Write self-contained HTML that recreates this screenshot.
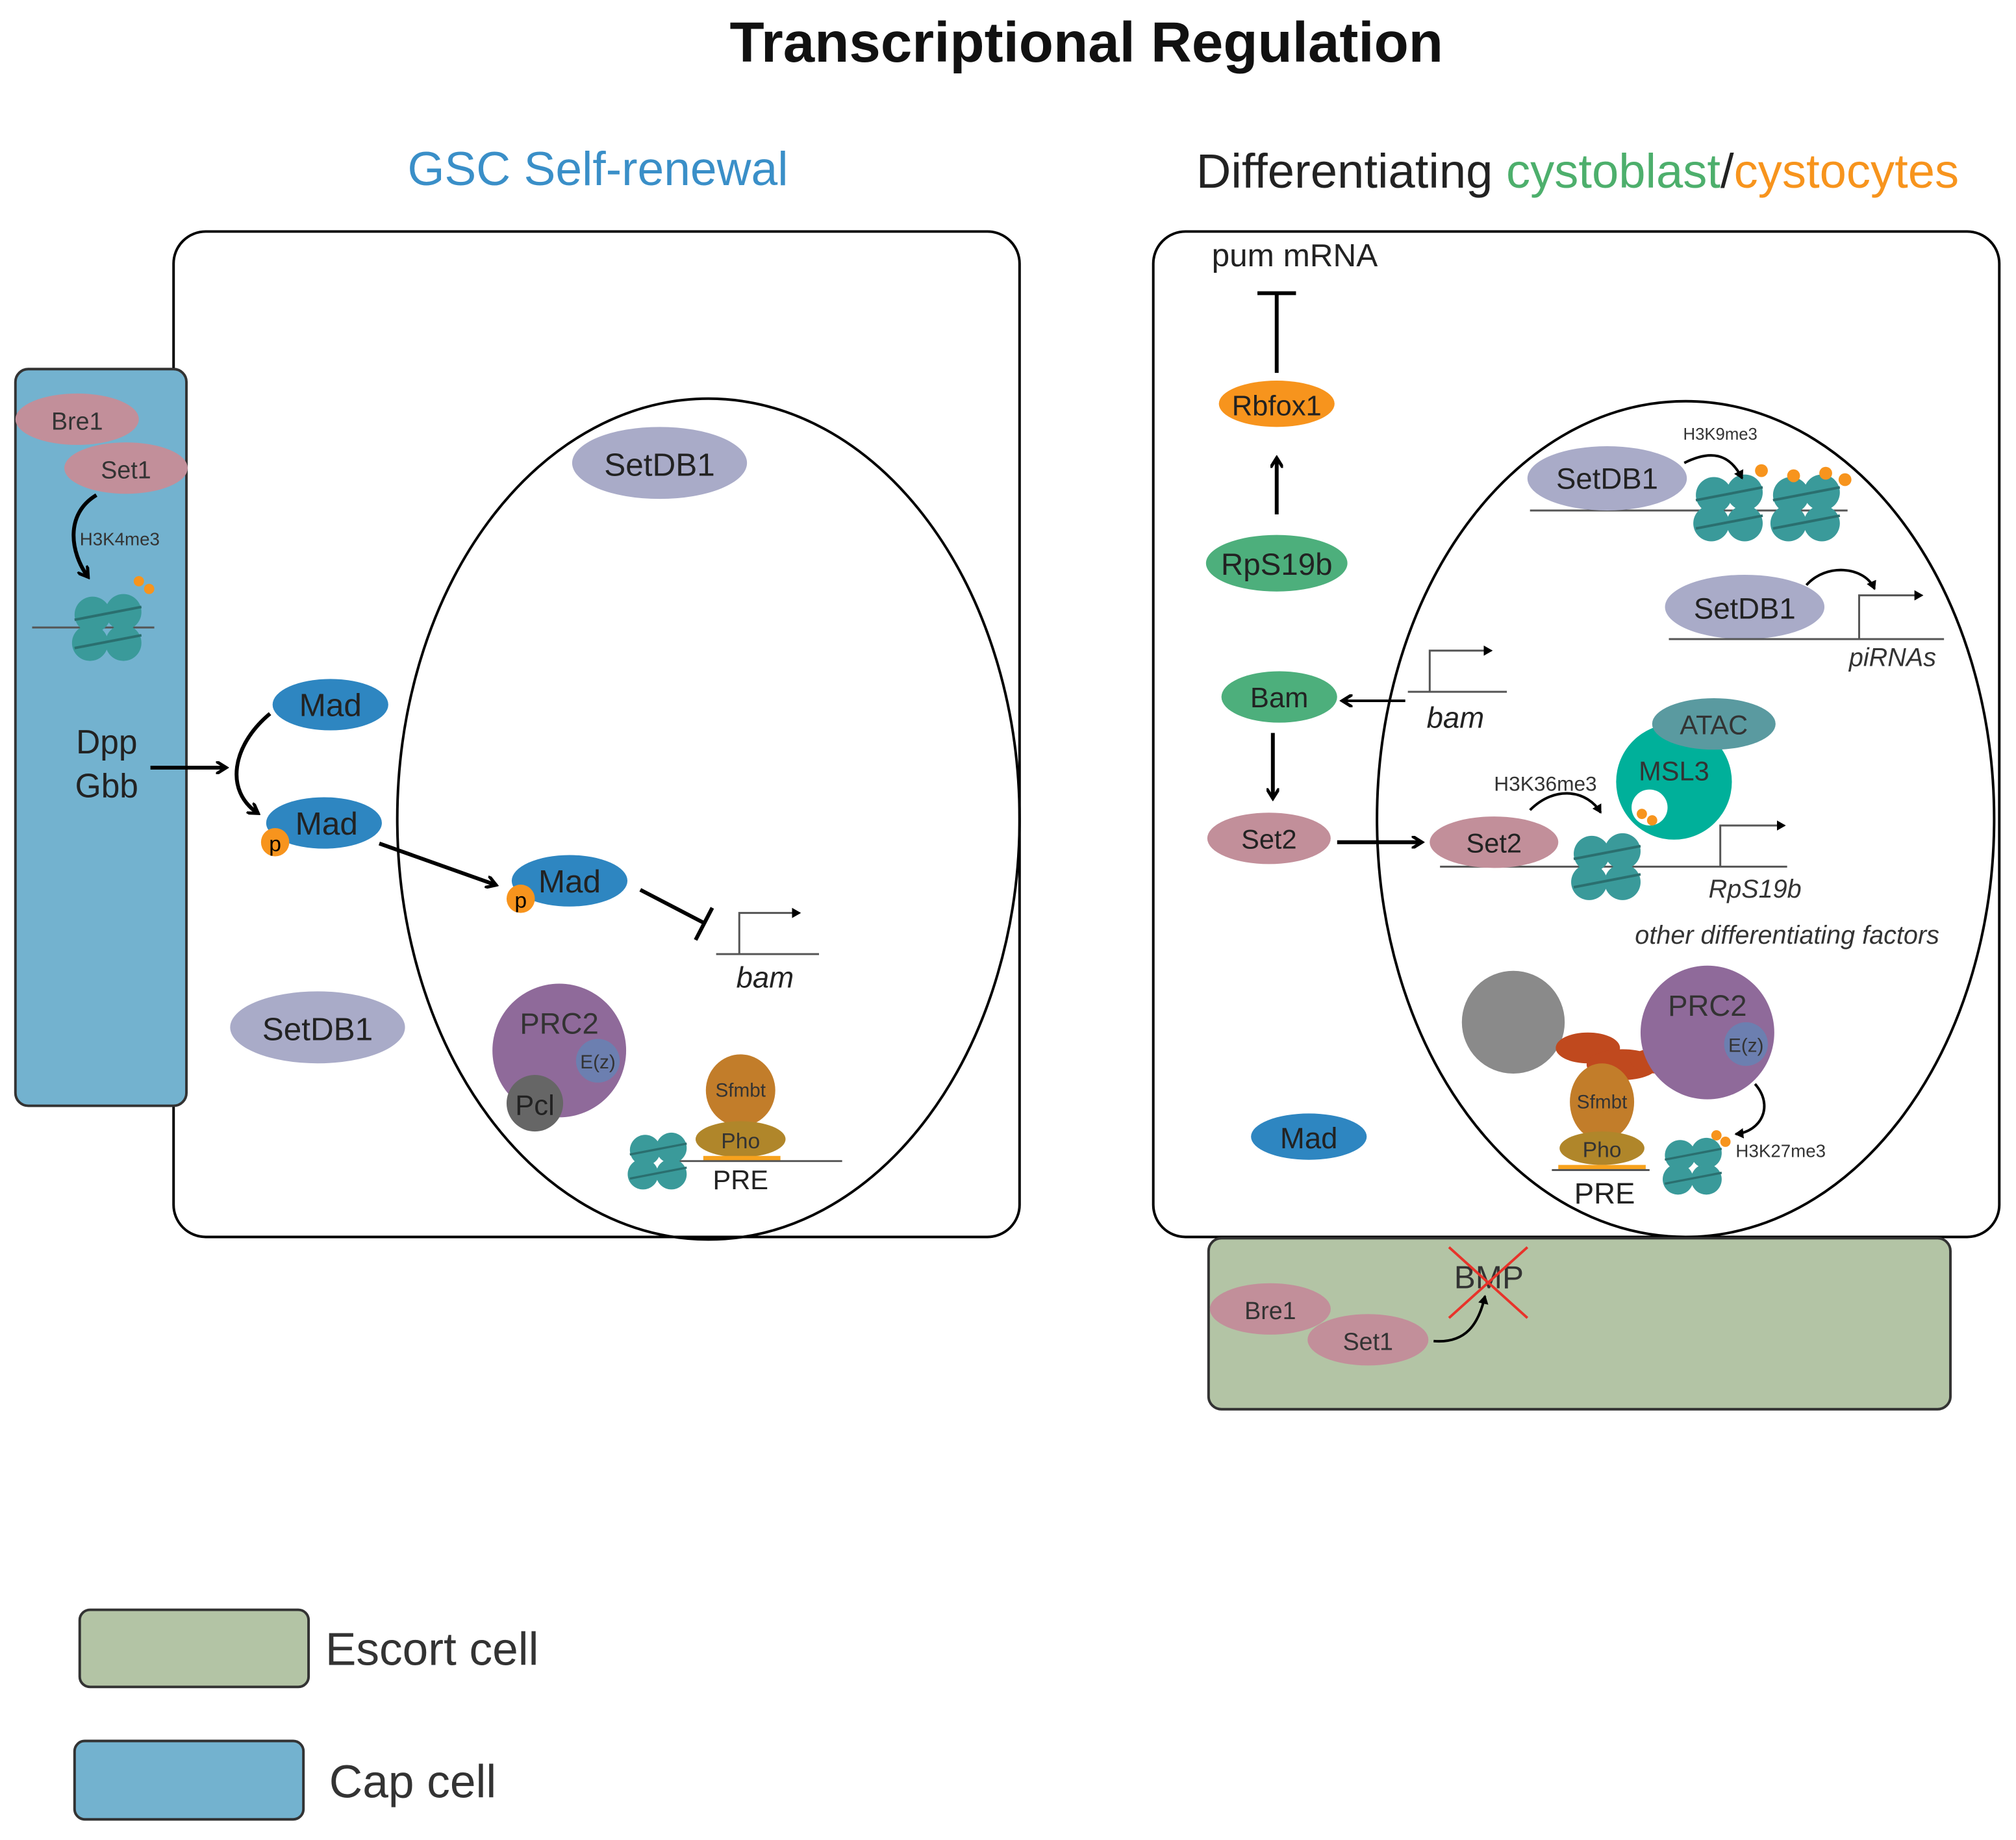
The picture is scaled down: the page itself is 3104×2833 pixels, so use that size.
<!DOCTYPE html>
<html><head><meta charset="utf-8"><style>html,body{margin:0;padding:0;background:#fff}svg{display:block}</style></head>
<body>
<svg width="3104" height="2833" viewBox="0 0 1568 1431" xmlns="http://www.w3.org/2000/svg" font-family="Liberation Sans, sans-serif">
<defs>
<marker id="ah" markerWidth="10" markerHeight="10" refX="7" refY="5" orient="auto" markerUnits="userSpaceOnUse"><path d="M0,0 L8,5 L0,10" fill="none" stroke="#000" stroke-width="2.5"/></marker>
<marker id="sm" markerWidth="8" markerHeight="8" refX="6" refY="4" orient="auto" markerUnits="userSpaceOnUse"><path d="M0,0 L7,4 L0,8 z" fill="#000"/></marker>
<g id="nuc">
<circle cx="-12" cy="-10" r="14" fill="#3a9a9a"/><circle cx="12" cy="-12" r="14" fill="#3a9a9a"/>
<circle cx="-14" cy="12" r="14" fill="#3a9a9a"/><circle cx="12" cy="12" r="14" fill="#3a9a9a"/>
<path d="M-26,-6 L26,-16 M-26,16 L26,6" stroke="#2a6f6f" stroke-width="2"/>
</g>
</defs>
<text x="845" y="48" font-size="44" font-weight="bold" text-anchor="middle" fill="#111">Transcriptional Regulation</text>
<text x="465" y="144" font-size="37" fill="#3a8fc8" text-anchor="middle">GSC Self-renewal</text>
<text x="1227" y="146" font-size="37.5" text-anchor="middle" fill="#222">Differentiating <tspan fill="#4daf6c">cystoblast</tspan>/<tspan fill="#f7941d">cystocytes</tspan></text>

<!-- left cell -->
<rect x="135" y="180" width="658" height="782" rx="25" fill="#fff" stroke="#000" stroke-width="2"/>
<rect x="12" y="287" width="133" height="573" rx="10" fill="#73b2cf" stroke="#333" stroke-width="2"/>
<ellipse cx="551" cy="637" rx="242" ry="327" fill="none" stroke="#000" stroke-width="2"/>
<ellipse cx="60" cy="326" rx="48" ry="20" fill="#c28f9a"/><text x="60" y="334" font-size="19" text-anchor="middle" fill="#333">Bre1</text>
<ellipse cx="98" cy="364" rx="48" ry="20" fill="#c28f9a"/><text x="98" y="372" font-size="19" text-anchor="middle" fill="#333">Set1</text>
<path d="M75,385 C50,400 55,430 68,448" fill="none" stroke="#000" stroke-width="3" marker-end="url(#ah)"/>
<text x="62" y="424" font-size="14" fill="#333">H3K4me3</text>
<line x1="25" y1="488" x2="120" y2="488" stroke="#555" stroke-width="1.5"/>
<use href="#nuc" x="84" y="488"/>
<circle cx="108" cy="452" r="4" fill="#f7941d"/><circle cx="116" cy="458" r="4" fill="#f7941d"/>
<text x="83" y="586" font-size="26" text-anchor="middle" fill="#222">Dpp</text>
<text x="83" y="620" font-size="26" text-anchor="middle" fill="#222">Gbb</text>
<line x1="117" y1="597" x2="175" y2="597" stroke="#000" stroke-width="3" marker-end="url(#ah)"/>
<ellipse cx="257" cy="548" rx="45" ry="20" fill="#2e86c1"/><text x="257" y="557" font-size="25" text-anchor="middle" fill="#222">Mad</text>
<path d="M210,555 C180,580 175,615 200,632" fill="none" stroke="#000" stroke-width="3" marker-end="url(#ah)"/>
<ellipse cx="252" cy="640" rx="45" ry="20" fill="#2e86c1"/><text x="254" y="649" font-size="25" text-anchor="middle" fill="#222">Mad</text>
<circle cx="214" cy="655" r="11" fill="#f7941d"/><text x="214" y="662" font-size="17" text-anchor="middle">p</text>
<line x1="295" y1="656" x2="385" y2="688" stroke="#000" stroke-width="3" marker-end="url(#ah)"/>
<ellipse cx="443" cy="685" rx="45" ry="20" fill="#2e86c1"/><text x="443" y="694" font-size="25" text-anchor="middle" fill="#222">Mad</text>
<circle cx="405" cy="699" r="11" fill="#f7941d"/><text x="405" y="706" font-size="17" text-anchor="middle">p</text>
<line x1="498" y1="692" x2="548" y2="718" stroke="#000" stroke-width="3"/><line x1="541" y1="731" x2="554" y2="706" stroke="#000" stroke-width="3"/>
<line x1="557" y1="742" x2="637" y2="742" stroke="#555" stroke-width="1.5"/>
<polyline points="575,742 575,710 622,710" fill="none" stroke="#555" stroke-width="1.5" marker-end="url(#sm)"/>
<text x="595" y="768" font-size="23" font-style="italic" text-anchor="middle" fill="#222">bam</text>
<ellipse cx="513" cy="360" rx="68" ry="28" fill="#a9abc8"/><text x="513" y="370" font-size="25" text-anchor="middle" fill="#222">SetDB1</text>
<ellipse cx="247" cy="799" rx="68" ry="28" fill="#a9abc8"/><text x="247" y="809" font-size="25" text-anchor="middle" fill="#222">SetDB1</text>
<circle cx="435" cy="817" r="52" fill="#8f6a9a"/><text x="435" y="804" font-size="23" text-anchor="middle" fill="#333">PRC2</text>
<circle cx="465" cy="825" r="17" fill="#6c7fb0"/><text x="465" y="831" font-size="15" text-anchor="middle" fill="#333">E(z)</text>
<circle cx="416" cy="858" r="22" fill="#666"/><text x="416" y="867" font-size="22" text-anchor="middle" fill="#222">Pcl</text>
<ellipse cx="576" cy="848" rx="27" ry="28" fill="#c27d2a"/><text x="576" y="853" font-size="15" text-anchor="middle" fill="#333">Sfmbt</text>
<ellipse cx="576" cy="886" rx="35" ry="14" fill="#b0862a"/><text x="576" y="893" font-size="17" text-anchor="middle" fill="#333">Pho</text>
<rect x="547" y="899" width="60" height="4" fill="#f7a21d"/>
<line x1="525" y1="903" x2="655" y2="903" stroke="#555" stroke-width="1.5"/>
<text x="576" y="925" font-size="21" text-anchor="middle" fill="#222">PRE</text>
<use href="#nuc" transform="translate(512 903) scale(0.85)"/>

<!-- right cell -->
<rect x="897" y="180" width="658" height="782" rx="25" fill="#fff" stroke="#000" stroke-width="2"/>
<ellipse cx="1311" cy="637" rx="240" ry="325" fill="none" stroke="#000" stroke-width="2"/>
<rect x="940" y="963" width="577" height="133" rx="10" fill="#b3c4a5" stroke="#333" stroke-width="2"/>
<text x="1007" y="207" font-size="25" text-anchor="middle" fill="#222">pum mRNA</text>
<line x1="993" y1="290" x2="993" y2="228" stroke="#000" stroke-width="3"/><line x1="978" y1="228" x2="1008" y2="228" stroke="#000" stroke-width="3"/>
<ellipse cx="993" cy="314" rx="45" ry="18" fill="#f7941d"/><text x="993" y="323" font-size="22" text-anchor="middle" fill="#222">Rbfox1</text>
<line x1="993" y1="400" x2="993" y2="357" stroke="#000" stroke-width="3" marker-end="url(#ah)"/>
<ellipse cx="993" cy="438" rx="55" ry="22" fill="#4daf7c"/><text x="993" y="447" font-size="24" text-anchor="middle" fill="#222">RpS19b</text>
<ellipse cx="995" cy="542" rx="45" ry="20" fill="#4daf7c"/><text x="995" y="550" font-size="22" text-anchor="middle" fill="#222">Bam</text>
<line x1="1093" y1="545" x2="1045" y2="545" stroke="#000" stroke-width="2" marker-end="url(#ah)"/>
<line x1="1095" y1="538" x2="1172" y2="538" stroke="#555" stroke-width="1.5"/>
<polyline points="1112,538 1112,506 1160,506" fill="none" stroke="#555" stroke-width="1.5" marker-end="url(#sm)"/>
<text x="1132" y="566" font-size="23" font-style="italic" text-anchor="middle" fill="#222">bam</text>
<line x1="990" y1="570" x2="990" y2="620" stroke="#000" stroke-width="3" marker-end="url(#ah)"/>
<ellipse cx="987" cy="652" rx="48" ry="20" fill="#c28f9a"/><text x="987" y="660" font-size="21" text-anchor="middle" fill="#222">Set2</text>
<line x1="1040" y1="655" x2="1105" y2="655" stroke="#000" stroke-width="3" marker-end="url(#ah)"/>
<line x1="1120" y1="674" x2="1390" y2="674" stroke="#555" stroke-width="1.5"/>
<ellipse cx="1162" cy="655" rx="50" ry="20" fill="#c28f9a"/><text x="1162" y="663" font-size="21" text-anchor="middle" fill="#222">Set2</text>
<use href="#nuc" x="1250" y="674"/>
<path d="M1190,630 C1210,610 1235,615 1245,632" fill="none" stroke="#000" stroke-width="2" marker-end="url(#sm)"/>
<text x="1202" y="615" font-size="16" text-anchor="middle" fill="#333">H3K36me3</text>
<polyline points="1338,674 1338,642 1388,642" fill="none" stroke="#555" stroke-width="1.5" marker-end="url(#sm)"/>
<text x="1365" y="698" font-size="20" font-style="italic" text-anchor="middle" fill="#333">RpS19b</text>
<text x="1390" y="734" font-size="20" font-style="italic" text-anchor="middle" fill="#333">other differentiating factors</text>
<circle cx="1302" cy="608" r="45" fill="#00b09a"/><circle cx="1283" cy="628" r="14" fill="#fff"/>
<text x="1302" y="607" font-size="21" text-anchor="middle" fill="#333">MSL3</text>
<circle cx="1277" cy="633" r="4" fill="#f7941d"/><circle cx="1285" cy="638" r="4" fill="#f7941d"/>
<ellipse cx="1333" cy="563" rx="48" ry="20" fill="#5a9aa0"/><text x="1333" y="571" font-size="21" text-anchor="middle" fill="#333">ATAC</text>
<line x1="1190" y1="397" x2="1437" y2="397" stroke="#555" stroke-width="1.5"/>
<use href="#nuc" x="1345" y="395"/><use href="#nuc" x="1405" y="395"/>
<circle cx="1370" cy="366" r="5" fill="#f7941d"/><circle cx="1395" cy="370" r="5" fill="#f7941d"/><circle cx="1420" cy="368" r="5" fill="#f7941d"/><circle cx="1435" cy="373" r="5" fill="#f7941d"/>
<ellipse cx="1250" cy="372" rx="62" ry="25" fill="#a9abc8"/><text x="1250" y="380" font-size="23" text-anchor="middle" fill="#222">SetDB1</text>
<text x="1338" y="342" font-size="13" text-anchor="middle" fill="#333">H3K9me3</text>
<path d="M1310,360 C1330,350 1345,352 1355,372" fill="none" stroke="#000" stroke-width="2" marker-end="url(#sm)"/>
<ellipse cx="1357" cy="472" rx="62" ry="25" fill="#a9abc8"/><text x="1357" y="481" font-size="23" text-anchor="middle" fill="#222">SetDB1</text>
<line x1="1298" y1="497" x2="1512" y2="497" stroke="#555" stroke-width="1.5"/>
<polyline points="1446,497 1446,463 1495,463" fill="none" stroke="#555" stroke-width="1.5" marker-end="url(#sm)"/>
<path d="M1405,455 C1420,438 1450,440 1458,458" fill="none" stroke="#000" stroke-width="2" marker-end="url(#sm)"/>
<text x="1472" y="518" font-size="20" font-style="italic" text-anchor="middle" fill="#333">piRNAs</text>
<circle cx="1177" cy="795" r="40" fill="#8a8a8a"/>
<ellipse cx="1235" cy="815" rx="25" ry="12" fill="#c0491e"/><ellipse cx="1262" cy="828" rx="28" ry="12" fill="#c0491e"/><ellipse cx="1290" cy="825" rx="22" ry="10" fill="#c0491e"/>
<circle cx="1328" cy="803" r="52" fill="#8f6a9a"/><text x="1328" y="790" font-size="23" text-anchor="middle" fill="#333">PRC2</text>
<circle cx="1358" cy="812" r="17" fill="#6c7fb0"/><text x="1358" y="818" font-size="15" text-anchor="middle" fill="#333">E(z)</text>
<ellipse cx="1246" cy="857" rx="25" ry="30" fill="#c27d2a"/><text x="1246" y="862" font-size="15" text-anchor="middle" fill="#333">Sfmbt</text>
<ellipse cx="1246" cy="893" rx="33" ry="13" fill="#b0862a"/><text x="1246" y="900" font-size="17" text-anchor="middle" fill="#333">Pho</text>
<rect x="1212" y="906" width="68" height="4" fill="#f7a21d"/>
<line x1="1207" y1="910" x2="1283" y2="910" stroke="#555" stroke-width="1.5"/>
<text x="1248" y="936" font-size="23" text-anchor="middle" fill="#222">PRE</text>
<use href="#nuc" transform="translate(1317 907) scale(0.85)"/>
<circle cx="1335" cy="883" r="4" fill="#f7941d"/><circle cx="1342" cy="888" r="4" fill="#f7941d"/>
<path d="M1365,843 C1380,860 1370,880 1350,882" fill="none" stroke="#000" stroke-width="2" marker-end="url(#sm)"/>
<text x="1350" y="900" font-size="14" fill="#333">H3K27me3</text>
<ellipse cx="1018" cy="884" rx="45" ry="18" fill="#2e86c1"/><text x="1018" y="893" font-size="23" text-anchor="middle" fill="#222">Mad</text>
<ellipse cx="988" cy="1018" rx="47" ry="20" fill="#c28f9a"/><text x="988" y="1026" font-size="19" text-anchor="middle" fill="#333">Bre1</text>
<ellipse cx="1064" cy="1042" rx="47" ry="20" fill="#c28f9a"/><text x="1064" y="1050" font-size="19" text-anchor="middle" fill="#333">Set1</text>
<path d="M1115,1043 C1140,1045 1150,1030 1155,1008" fill="none" stroke="#000" stroke-width="2" marker-end="url(#sm)"/>
<text x="1158" y="1002" font-size="25" text-anchor="middle" fill="#333">BMP</text>
<line x1="1127" y1="970" x2="1188" y2="1025" stroke="#e8332a" stroke-width="2"/><line x1="1188" y1="970" x2="1127" y2="1025" stroke="#e8332a" stroke-width="2"/>

<!-- legend -->
<rect x="62" y="1252" width="178" height="60" rx="8" fill="#b3c4a5" stroke="#333" stroke-width="2"/>
<text x="253" y="1295" font-size="36" fill="#333">Escort cell</text>
<rect x="58" y="1354" width="178" height="61" rx="8" fill="#73b2cf" stroke="#333" stroke-width="2"/>
<text x="256" y="1398" font-size="36" fill="#333">Cap cell</text>
</svg>
</body></html>
